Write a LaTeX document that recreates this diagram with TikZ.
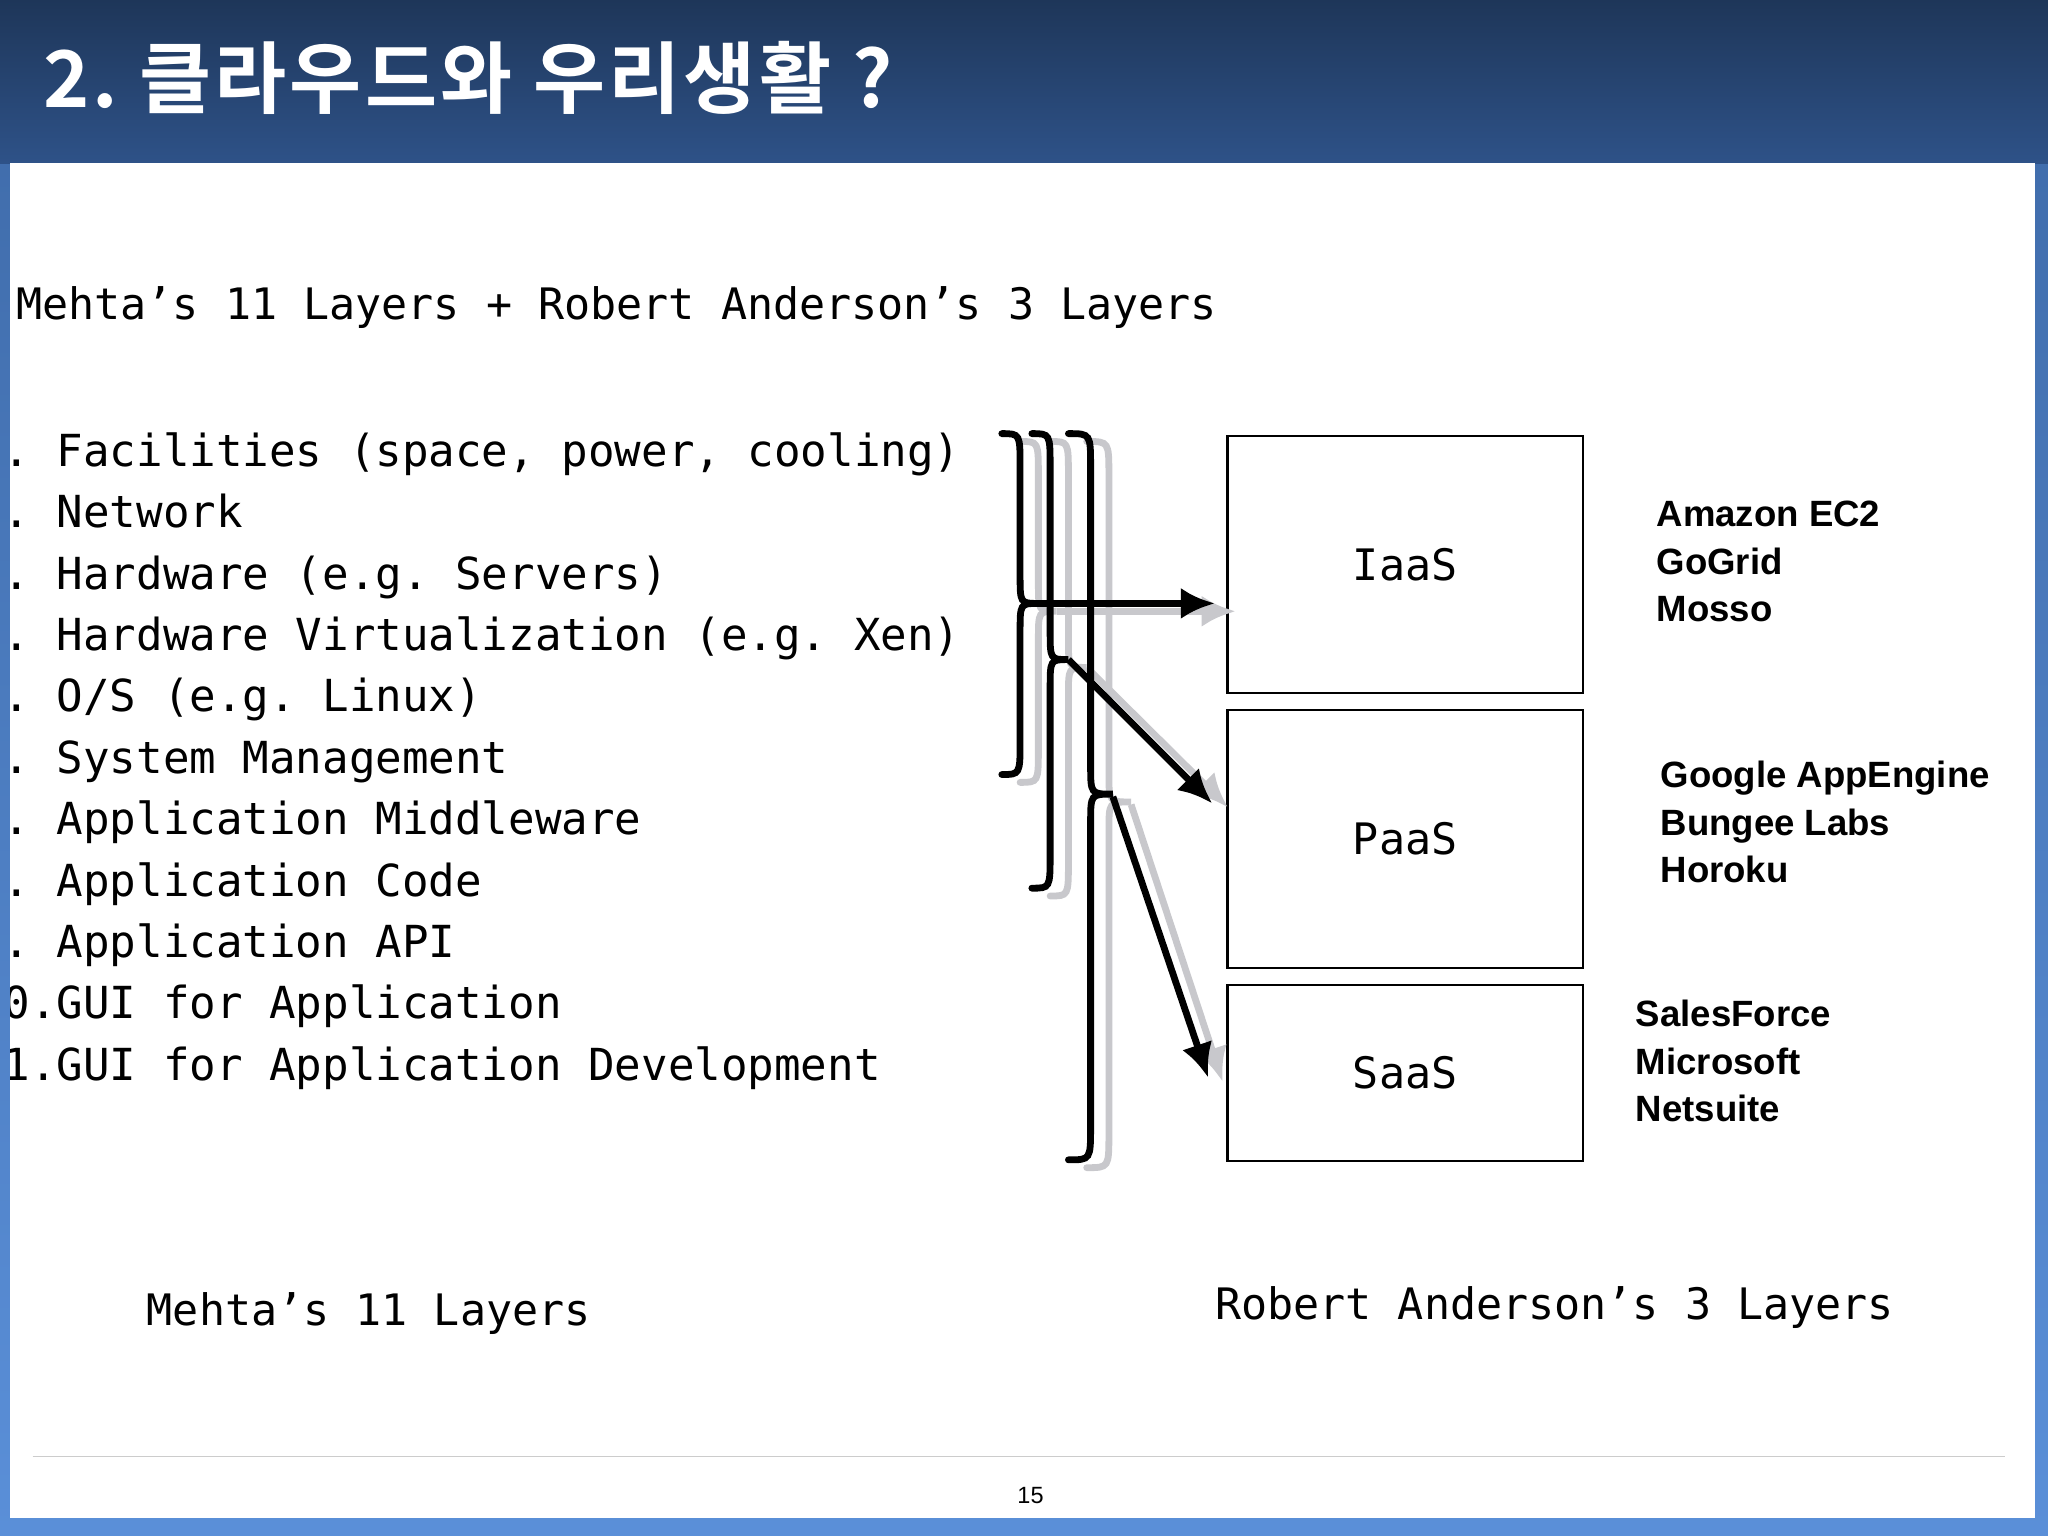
\documentclass[tikz,border=0pt]{standalone}
\usepackage{fontspec}
\usetikzlibrary{arrows.meta}
\setmainfont{Liberation Sans}
\newfontfamily\monof{DejaVu Sans Mono}
\newfontfamily\kof{Noto Sans CJK KR}[BoldFont={* Bold},LetterSpace=4]
\definecolor{bandtop}{HTML}{1E3659}
\definecolor{bandbot}{HTML}{2E5288}
\definecolor{sidetop}{HTML}{3E6AA8}
\definecolor{sidebot}{HTML}{5A8FD8}
\definecolor{shad}{HTML}{C8C8CC}
\frenchspacing
\begin{document}
\begin{tikzpicture}[x=0.5pt,y=-0.5pt,
  mono/.style={font=\monof\fontsize{16.6pt}{18pt}\selectfont, anchor=base west, inner sep=0},
  lst/.style={font=\monof\fontsize{16.9pt}{18pt}\selectfont, anchor=base west, inner sep=0},
  vend/.style={font=\bfseries\fontsize{14pt}{16pt}\selectfont, anchor=base west, inner sep=0},
  layer/.style={draw, line width=0.8pt, minimum width=136pt, anchor=north west},
  br/.style={line width=2.6pt, line cap=round},
  arr/.style={line width=2.6pt, -{Latex[length=13pt,width=12pt]}}]
\useasboundingbox (0,0) rectangle (1568,1176);
\shade[top color=sidetop, bottom color=sidebot] (0,0) rectangle (1568,1176);
\shade[top color=bandtop, bottom color=bandbot] (0,0) rectangle (1568,125);
\fill[white] (8,125) rectangle (1558,1162);
\node[anchor=base west, inner sep=0, text=white, font=\kof\bfseries\fontsize{30pt}{34pt}\selectfont] (title) at (33,82) {2.\ 클라우드와 우리생활 ?};
\begin{scope}
\clip (8,125) rectangle (1558,1162);
\node[mono] (head) at (12,245) {Mehta’s 11 Layers + Robert Anderson’s 3 Layers};
\foreach \t [count=\i] in {1. Facilities (space{,} power{,} cooling),2. Network,3. Hardware (e.g. Servers),4. Hardware Virtualization (e.g. Xen),5. O/S (e.g. Linux),6. System Management,7. Application Middleware,8. Application Code,9. Application API,10.GUI for Application,11.GUI for Application Development}
  \node[lst] (l\i) at (-18,{357+47*(\i-1)}) {\t};
\end{scope}
\node[mono] (ml) at (112,1015) {Mehta’s 11 Layers};
\node[mono] (rl) at (930,1010) {Robert Anderson’s 3 Layers};
% boxes
\node[layer, minimum height=98.5pt] (iaas) at (939,333) {};
\node[layer, minimum height=98.5pt] (paas) at (939,543) {};
\node[layer, minimum height=67.5pt] (saas) at (939,753) {};
\node[mono, anchor=center] at (iaas.center) {IaaS};
\node[mono, anchor=center] at (paas.center) {PaaS};
\node[mono, anchor=center] at (saas.center) {SaaS};
\node[vend] (v1a) at (1268,403) {Amazon EC2};
\node[vend] (v1b) at (1268,440) {GoGrid};
\node[vend] (v1c) at (1268,476) {Mosso};
\node[vend] (v2a) at (1271,603) {Google AppEngine};
\node[vend] (v2b) at (1271,640) {Bungee Labs};
\node[vend] (v2c) at (1271,676) {Horoku};
\node[vend] (v3a) at (1252,786) {SalesForce};
\node[vend] (v3b) at (1252,823) {Microsoft};
\node[vend] (v3c) at (1252,859) {Netsuite};
% braces
\newcommand\mybr[6]{% x0 top mid bot w color
  \draw[br,#6] (#1,#2) .. controls ({#1+#5/2},#2) .. ({#1+#5/2},{#2+26}) -- ({#1+#5/2},{#3-22})
    .. controls ({#1+#5/2},#3) .. ({#1+#5},#3) .. controls ({#1+#5/2},#3) .. ({#1+#5/2},{#3+22})
    -- ({#1+#5/2},{#4-26}) .. controls ({#1+#5/2},#4) .. (#1,#4);}
\begin{scope}[shift={(14,6)}]
\mybr{767}{332}{462}{593}{28}{shad}
\mybr{790}{332}{505}{680}{28}{shad}
\mybr{818}{332}{608}{888}{34}{shad}
\draw[arr,shad] (795,462) -- (932,462);
\draw[arr,shad] (818,505) -- (926,612);
\draw[arr,shad] (852,610) -- (922,822);
\end{scope}
\mybr{767}{332}{462}{593}{28}{black}
\mybr{790}{332}{505}{680}{28}{black}
\mybr{818}{332}{608}{888}{34}{black}
\coordinate (t1) at (795,462);
\coordinate (t2) at (818,505);
\coordinate (t3) at (852,610);
\coordinate (h1) at (930,462);
\coordinate (h2) at (928,615);
\coordinate (h3) at (925,825);
\draw[arr] (t1) -- (h1);
\draw[arr] (t2) -- (h2);
\draw[arr] (t3) -- (h3);
% footer
\draw[gray!40, line width=0.5pt] (25,1115) -- (1535,1115);
\node[font=\fontsize{9pt}{10pt}\selectfont] (pg) at (789,1145) {15};
\end{tikzpicture}
\end{document}
